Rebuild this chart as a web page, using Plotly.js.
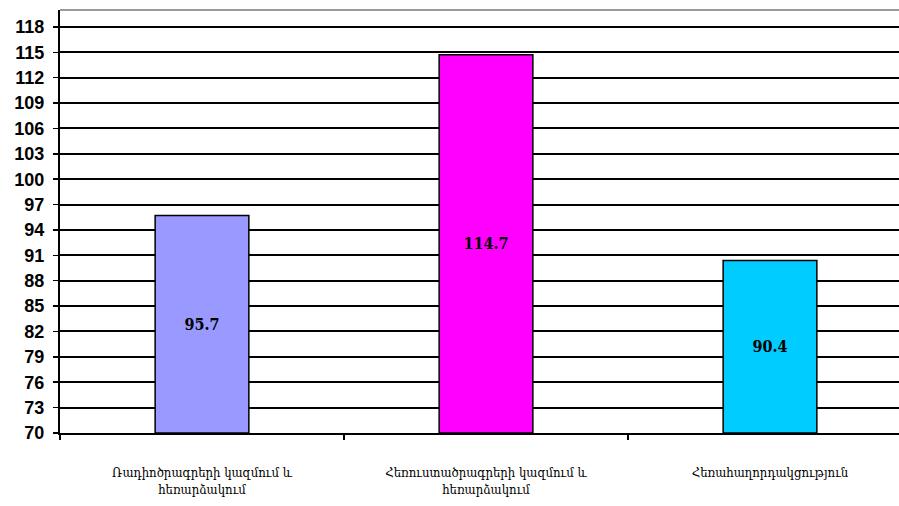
<!DOCTYPE html>
<html>
<head>
<meta charset="utf-8">
<script src="https://cdn.plot.ly/plotly-3.0.1.min.js"></script>
<style>
html,body{margin:0;padding:0;overflow:hidden;background:#fff;}
#chart{width:912px;height:506px;}
</style>
</head>
<body>
<div id="chart"></div>
<script>
var categories = [
  "Ռադիոծրագրերի կազմում և<br>հեռարձակում",
  "Հեռուստածրագրերի կազմում և<br>հեռարձակում",
  "Հեռահաղորդակցություն"
];
var values = [95.7, 114.7, 90.4];
var barColors = ["#9999FF", "#FF00FF", "#00CCFF"];
var yTicks = [70, 73, 76, 79, 82, 85, 88, 91, 94, 97, 100, 103, 106, 109, 112, 115, 118];
var baseValue = 70;

var trace = {
  type: "bar",
  x: categories,
  y: values.map(function(v){return v - baseValue;}),
  base: baseValue,
  width: 0.33,
  marker: {color: barColors, line: {color: "#000", width: 1.5}},
  text: values.map(function(v){return v.toFixed(1);}),
  textposition: "inside",
  insidetextanchor: "middle",
  textangle: 0,
  constraintext: "none",
  textfont: {family: "DejaVu Serif Condensed, DejaVu Serif, Liberation Serif, serif", size: 16, color: "#000", weight: "bold"},
  hoverinfo: "none"
};

var layout = {
  width: 912,
  height: 506,
  margin: {l: 60, r: 0, t: 10, b: 73},
  paper_bgcolor: "#fff",
  plot_bgcolor: "#fff",
  showlegend: false,
  xaxis: {
    type: "category",
    tickson: "boundaries",
    ticks: "outside",
    ticklen: 5,
    tickwidth: 1.5,
    tickcolor: "#000",
    showline: true,
    linecolor: "#000",
    linewidth: 2,
    showgrid: false,
    ticklabelstandoff: 26,
    tickfont: {family: "DejaVu Serif Condensed, DejaVu Serif, serif", size: 13, color: "#000"},
    fixedrange: true
  },
  yaxis: {
    range: [70, 120],
    tickvals: yTicks,
    ticktext: yTicks.map(String),
    ticks: "outside",
    ticklen: 5,
    tickwidth: 1.5,
    tickcolor: "#000",
    showline: true,
    linecolor: "#000",
    linewidth: 2,
    showgrid: true,
    gridcolor: "#000",
    gridwidth: 2,
    zeroline: false,
    ticklabelstandoff: 5,
    tickfont: {family: "Liberation Sans, Arial, sans-serif", size: 18, color: "#000", weight: "bold"},
    fixedrange: true
  },
  shapes: [{
    type: "line", xref: "paper", yref: "paper", x0: 0, x1: 1, y0: 1, y1: 1,
    line: {color: "#999", width: 2}
  }]
};

Plotly.newPlot("chart", [trace], layout, {displayModeBar: false, staticPlot: true});
</script>
</body>
</html>
